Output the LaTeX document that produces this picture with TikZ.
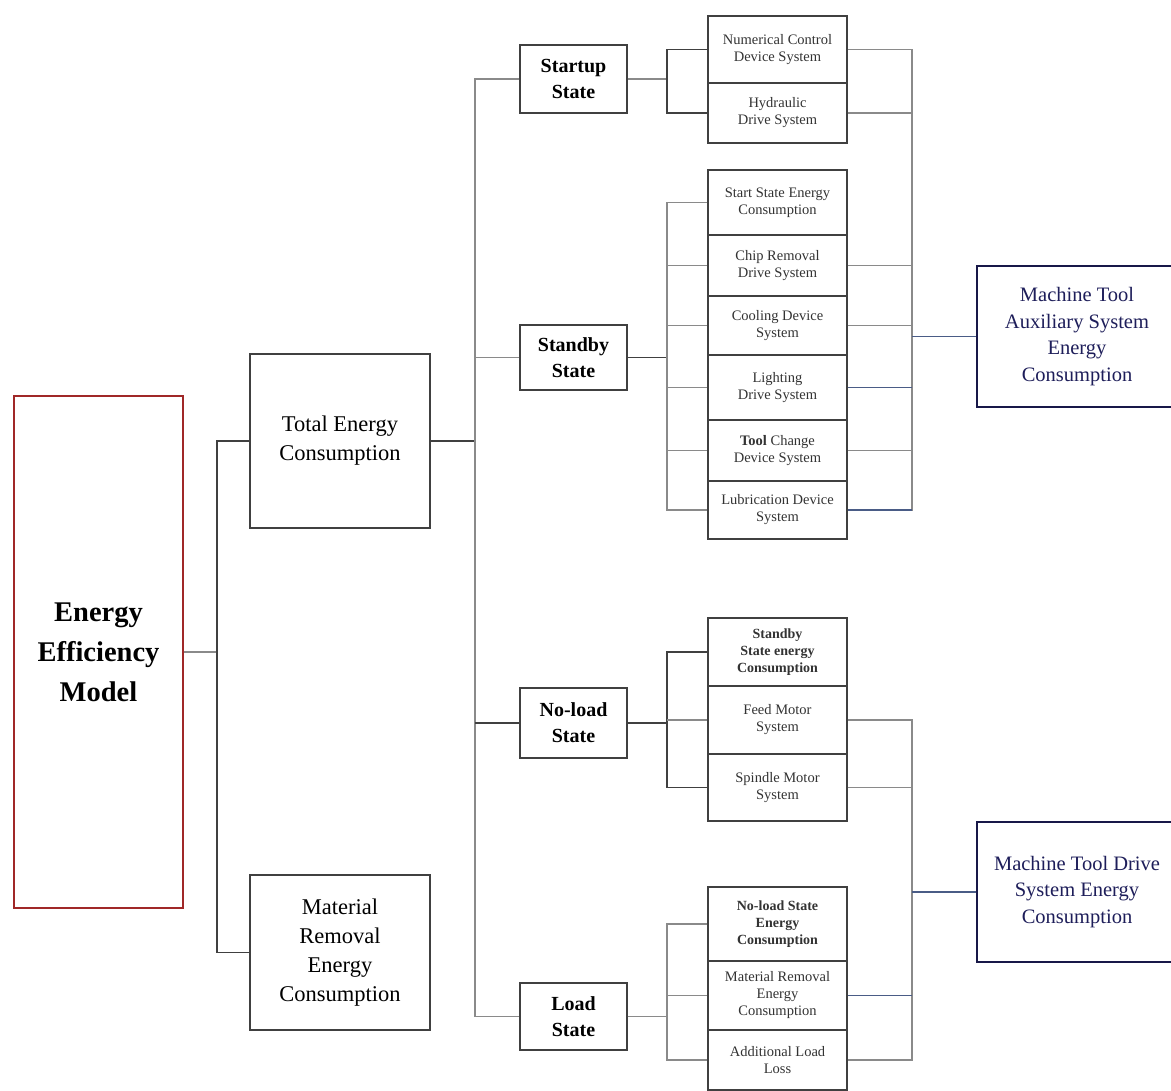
\documentclass[tikz,border=0pt]{standalone}
\usepackage{fontspec}
\setmainfont{Liberation Serif}
\definecolor{boxc}{HTML}{404040}
\definecolor{linec}{HTML}{8A8A8A}
\definecolor{darkl}{HTML}{404040}
\definecolor{bluel}{HTML}{4A5C86}
\definecolor{navy}{HTML}{1E1E5A}
\definecolor{redb}{HTML}{A02828}
\definecolor{subt}{HTML}{333333}
\begin{document}
\begin{tikzpicture}[x=1pt,y=-1pt,
  base/.style={draw=boxc,line width=1.2pt,inner sep=2pt,align=center},
  subbox/.style={base,minimum width=139pt,text=subt,font=\fontsize{14.5}{17}\selectfont},
  statebox/.style={base,minimum width=107pt,font=\fontsize{20}{26}\selectfont\bfseries},
  bigbox/.style={base,minimum width=180pt,font=\fontsize{22.5}{29}\selectfont},
  sidebox/.style={base,draw=navy!80!black,minimum width=200pt,text=navy,font=\fontsize{20.5}{26.5}\selectfont},
  conn/.style={draw=linec,line width=1.1pt},
  connd/.style={draw=darkl,line width=1.3pt},
  connb/.style={draw=bluel,line width=1.1pt}]
\useasboundingbox (0,0) rectangle (1171,1091);
\fill[white] (0,0) rectangle (1171,1091);

% column coordinates
\coordinate (lx) at (217,0);
\coordinate (sx) at (475,0);
\coordinate (bx) at (667,0);
\coordinate (rx) at (912,0);

% main boxes
\node[base,draw=redb,minimum width=169pt,minimum height=512pt,font=\fontsize{28.5}{40}\selectfont\bfseries] (eem) at (98.5,652) {Energy\\Efficiency\\Model};
\node[bigbox,minimum height=174pt] (total) at (340,441) {Total Energy\\Consumption};
\node[bigbox,minimum height=155pt] (mat) at (340,952.5) {Material\\Removal\\Energy\\Consumption};

% state boxes
\node[statebox,minimum height=68pt] (startup) at (573.5,79) {Startup\\State};
\node[statebox,minimum height=65pt] (standby) at (573.5,357.5) {Standby\\State};
\node[statebox,minimum height=70pt] (noload) at (573.5,723) {No-load\\State};
\node[statebox,minimum height=67pt] (load) at (573.5,1016.5) {Load\\State};

% sub boxes
\node[subbox,minimum height=67pt] (nc) at (777.5,49.5) {Numerical Control\\Device System};
\node[subbox,minimum height=60pt] (hyd) at (777.5,113) {Hydraulic\\Drive System};
\node[subbox,minimum height=65pt] (sse) at (777.5,202.5) {Start State Energy\\Consumption};
\node[subbox,minimum height=61pt] (chip) at (777.5,265.5) {Chip Removal\\Drive System};
\node[subbox,minimum height=59pt] (cool) at (777.5,325.5) {Cooling Device\\System};
\node[subbox,minimum height=65pt] (light) at (777.5,387.5) {Lighting\\Drive System};
\node[subbox,minimum height=61pt] (tool) at (777.5,450.5) {\textbf{Tool} Change\\Device System};
\node[subbox,minimum height=58pt] (lub) at (777.5,510) {Lubrication Device\\System};
\node[subbox,minimum height=68pt,font=\fontsize{14}{17}\selectfont\bfseries] (sbe) at (777.5,652) {Standby\\State energy\\Consumption};
\node[subbox,minimum height=68pt] (feed) at (777.5,720) {Feed Motor\\System};
\node[subbox,minimum height=67pt] (spin) at (777.5,787.5) {Spindle Motor\\System};
\node[subbox,minimum height=74pt,font=\fontsize{14}{17}\selectfont\bfseries] (nle) at (777.5,924) {No-load State\\Energy\\Consumption};
\node[subbox,minimum height=69pt] (mre) at (777.5,995.5) {Material Removal\\Energy\\Consumption};
\node[subbox,minimum height=60pt] (add) at (777.5,1060) {Additional Load\\Loss};

% side boxes
\node[sidebox,minimum height=141pt] (aux) at (1077,336.5) {Machine Tool\\Auxiliary System\\Energy\\Consumption};
\node[sidebox,minimum height=140pt] (drive) at (1077,892) {Machine Tool Drive\\System Energy\\Consumption};

% left connectors
\draw[conn] (eem.east) -- (eem.east -| lx);
\draw[connd] (total.west) -- (total.west -| lx) -- (mat.west -| lx) -- (mat.west);

% total -> states
\draw[connd] (total.east) -- (total.east -| sx);
\draw[conn] (startup.west) -- (startup.west -| sx) -- (load.west -| sx) -- (load.west);
\draw[conn] (standby.west) -- (standby.west -| sx);
\draw[connd] (noload.west) -- (noload.west -| sx);

% startup bracket
\draw[conn] (startup.east) -- (startup.east -| bx);
\draw[connd] (nc.west) -- (nc.west -| bx) -- (hyd.west -| bx) -- (hyd.west);

% standby bracket
\draw[connd] (standby.east) -- (standby.east -| bx);
\draw[conn] (sse.west) -- (sse.west -| bx) -- (lub.west -| bx) -- (lub.west);
\draw[conn] (chip.west -| bx) -- (chip.west);
\draw[conn] (cool.west -| bx) -- (cool.west);
\draw[conn] (light.west -| bx) -- (light.west);
\draw[conn] (tool.west -| bx) -- (tool.west);

% no-load bracket
\draw[connd] (noload.east) -- (noload.east -| bx);
\draw[connd] (sbe.west) -- (sbe.west -| bx) -- (spin.west -| bx) -- (spin.west);
\draw[conn] (feed.west -| bx) -- (feed.west);

% load bracket
\draw[conn] (load.east) -- (load.east -| bx);
\draw[conn] (nle.west) -- (nle.west -| bx) -- (add.west -| bx) -- (add.west);
\draw[conn] (mre.west -| bx) -- (mre.west);

% right upper bracket
\draw[conn] (nc.east) -- (nc.east -| rx) -- (lub.east -| rx) -- (lub.east);
\draw[conn] (hyd.east) -- (hyd.east -| rx);
\draw[conn] (chip.east) -- (chip.east -| rx);
\draw[conn] (cool.east) -- (cool.east -| rx);
\draw[connb] (light.east) -- (light.east -| rx);
\draw[conn] (tool.east) -- (tool.east -| rx);
\draw[connb] (lub.east) -- (lub.east -| rx);
\draw[connb] (aux.west) -- (aux.west -| rx);

% right lower bracket
\draw[conn] (feed.east) -- (feed.east -| rx) -- (add.east -| rx) -- (add.east);
\draw[conn] (spin.east) -- (spin.east -| rx);
\draw[connb] (mre.east) -- (mre.east -| rx);
\draw[connb] (drive.west) -- (drive.west -| rx);
\end{tikzpicture}
\end{document}
